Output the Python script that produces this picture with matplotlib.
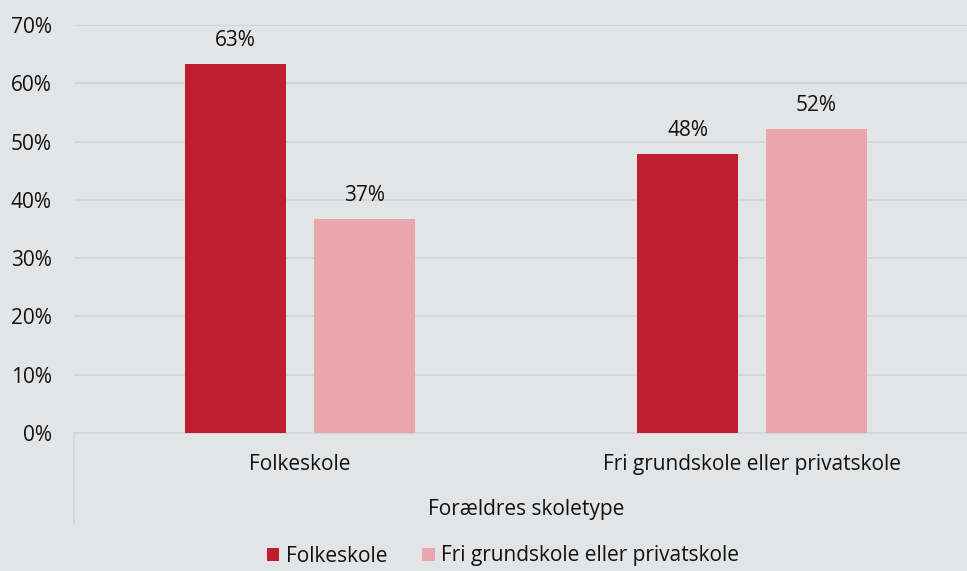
import matplotlib.pyplot as plt
import numpy as np

plt.rcParams['font.family'] = ['Open Sans', 'DejaVu Sans']

categories = ['Folkeskole', 'Fri grundskole eller privatskole']
series_names = ['Folkeskole', 'Fri grundskole eller privatskole']
folkeskole = [63.3, 47.9]
fri_privat = [36.7, 52.1]
yticks = [0, 10, 20, 30, 40, 50, 60, 70]
axis_title = 'Forældres skoletype'

bg = '#e3e4e6'
colors = ['#be1e2d', '#e8a7ac']
txt = '#111111'
fs = 15

fig = plt.figure(figsize=(9.67, 5.71), dpi=100, facecolor=bg)
# plot area: x 74..978 px, y 25..433 px
ax = fig.add_axes([74 / 967, 1 - 433 / 571, 904 / 967, 408 / 571])
ax.set_facecolor(bg)

x = np.arange(len(categories))
w = 0.224
off = 0.1425
for vals, name, c, d in [(folkeskole, series_names[0], colors[0], -off),
                         (fri_privat, series_names[1], colors[1], off)]:
    bars = ax.bar(x + d, vals, width=w, color=c, label=name, zorder=3)
    for b, v in zip(bars, vals):
        ax.annotate(f'{v:.0f}%', xy=(b.get_x() + b.get_width() / 2, v),
                    xytext=(0, 17), textcoords='offset points',
                    ha='center', va='center', fontsize=fs, color=txt)

ax.set_xlim(-0.5, 1.5)
ax.set_ylim(0, 70)
ax.set_yticks(yticks)
ax.set_yticklabels([f'{t}%' for t in yticks], fontsize=fs, color=txt)
ax.tick_params(axis='y', length=0, pad=16)
ax.set_xticks([])
ax.grid(axis='y', color='#d3d4d6', linewidth=1.2, zorder=0)
for s in ['top', 'right', 'left']:
    ax.spines[s].set_visible(False)
ax.spines['bottom'].set_color('#d3d4d6')
ax.spines['bottom'].set_linewidth(1.2)

# category labels and multi-level axis title
for xi, cat in zip(x, categories):
    ax.annotate(cat, xy=(xi, 0), xycoords='data', xytext=(0, -22.5),
                textcoords='offset points', ha='center', va='center',
                fontsize=fs, color=txt)
ax.annotate(axis_title, xy=(0.5, 0), xycoords='axes fraction',
            xytext=(0, -55), textcoords='offset points',
            ha='center', va='center', fontsize=fs, color=txt)
fig.add_artist(plt.Line2D([74 / 967, 74 / 967], [1 - 433 / 571, 1 - 523 / 571],
                          color='#d3d4d6', linewidth=1.2))

leg = fig.legend(loc='center', bbox_to_anchor=(503 / 967, 1 - 556 / 571),
                 ncol=2, frameon=False, fontsize=fs, handlelength=0.6,
                 handleheight=0.6, handletextpad=0.3, columnspacing=1.7)
for t in leg.get_texts():
    t.set_color(txt)

fig.savefig('out.png', dpi=100, facecolor=bg)
